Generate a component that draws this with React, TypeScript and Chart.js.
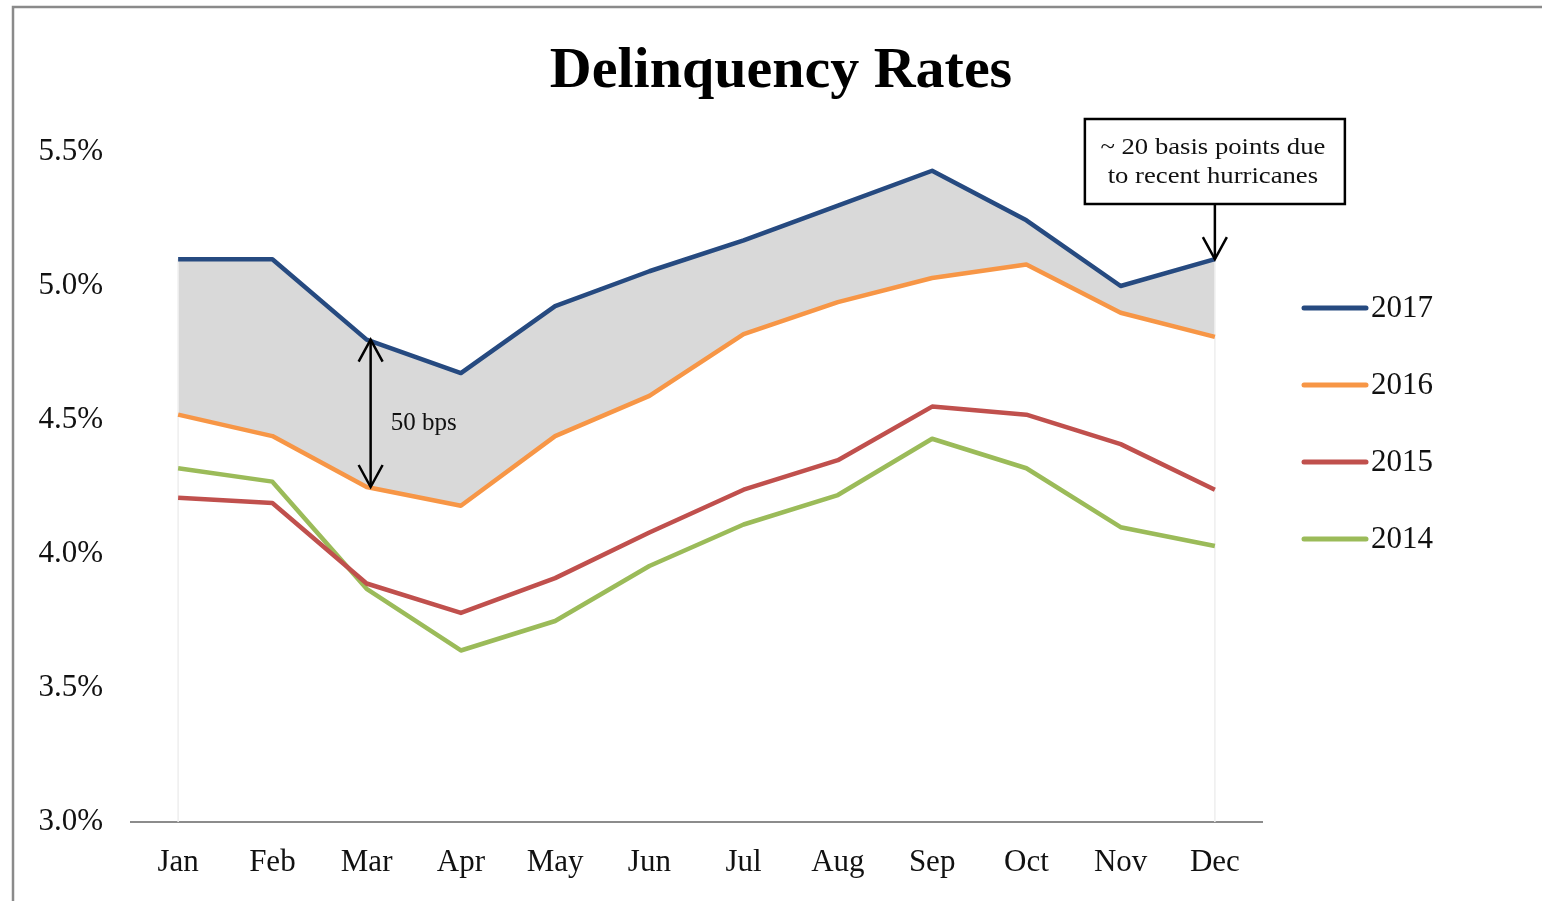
import React, { useEffect, useRef } from "react";
import { Chart, registerables } from "chart.js";

Chart.register(...registerables);

const months = ["Jan", "Feb", "Mar", "Apr", "May", "Jun", "Jul", "Aug", "Sep", "Oct", "Nov", "Dec"];
const rates2017 = [5.10, 5.10, 4.80, 4.675, 4.925, 5.055, 5.17, 5.30, 5.43, 5.245, 5.00, 5.10];
const rates2016 = [4.52, 4.44, 4.25, 4.18, 4.44, 4.59, 4.82, 4.94, 5.03, 5.08, 4.90, 4.81];
const rates2015 = [4.21, 4.19, 3.89, 3.78, 3.91, 4.08, 4.24, 4.35, 4.55, 4.52, 4.41, 4.24];
const rates2014 = [4.32, 4.27, 3.87, 3.64, 3.75, 3.955, 4.11, 4.22, 4.43, 4.32, 4.10, 4.03];
const seriesLabels = ["2017", "2016", "2015", "2014"];
const seriesColors = ["#264a80", "#f79646", "#c0504d", "#9bbb59"];
const yTicks = [3.0, 3.5, 4.0, 4.5, 5.0, 5.5];
const titleText = "Delinquency Rates";
const bpsText = "50 bps";
const noteLines = ["~ 20 basis points due", "to recent hurricanes"];

const SERIF = '"Liberation Serif", "Times New Roman", serif';

function arrowHead(ctx: CanvasRenderingContext2D, x: number, y: number, dir: number) {
  ctx.beginPath();
  ctx.moveTo(x - 12, y + dir * 22);
  ctx.lineTo(x, y);
  ctx.lineTo(x + 12, y + dir * 22);
  ctx.stroke();
}

const decorPlugin = {
  id: "decor",
  beforeDatasetsDraw(chart: any) {
    const { ctx, scales } = chart;
    const xs = scales.x;
    const ys = scales.y;
    ctx.save();
    ctx.strokeStyle = "#eeeeee";
    ctx.lineWidth = 1.5;
    [0, months.length - 1].forEach((i) => {
      const x = xs.getPixelForValue(i);
      ctx.beginPath();
      ctx.moveTo(x, ys.getPixelForValue(rates2017[i]));
      ctx.lineTo(x, ys.bottom);
      ctx.stroke();
    });
    ctx.restore();
  },
  afterDraw(chart: any) {
    const { ctx, scales } = chart;
    const xs = scales.x;
    const ys = scales.y;
    ctx.save();

    // outer frame
    ctx.strokeStyle = "#8a8a8a";
    ctx.lineWidth = 2.5;
    ctx.beginPath();
    ctx.moveTo(13, 901);
    ctx.lineTo(13, 7);
    ctx.lineTo(1542, 7);
    ctx.stroke();

    // title
    ctx.fillStyle = "#000";
    ctx.font = `bold 58px ${SERIF}`;
    ctx.textAlign = "center";
    ctx.textBaseline = "alphabetic";
    ctx.fillText(titleText, 781, 87);

    // legend
    const legendY = [308, 385, 462, 539];
    seriesLabels.forEach((lab, i) => {
      ctx.strokeStyle = seriesColors[i];
      ctx.lineWidth = 5;
      ctx.lineCap = "round";
      ctx.beginPath();
      ctx.moveTo(1304, legendY[i]);
      ctx.lineTo(1366, legendY[i]);
      ctx.stroke();
      ctx.fillStyle = "#111";
      ctx.font = `31px ${SERIF}`;
      ctx.textAlign = "left";
      ctx.textBaseline = "middle";
      ctx.fillText(lab, 1371, legendY[i] + 1);
    });
    ctx.lineCap = "butt";

    // 50 bps arrow
    const xm = xs.getPixelForValue(2) + 4;
    const yTop = ys.getPixelForValue(rates2017[2]);
    const yBot = ys.getPixelForValue(rates2016[2]);
    ctx.strokeStyle = "#000";
    ctx.lineWidth = 2.5;
    ctx.beginPath();
    ctx.moveTo(xm, yTop);
    ctx.lineTo(xm, yBot);
    ctx.stroke();
    arrowHead(ctx, xm, yTop, 1);
    arrowHead(ctx, xm, yBot, -1);
    ctx.fillStyle = "#111";
    ctx.font = `25px ${SERIF}`;
    ctx.textAlign = "left";
    ctx.textBaseline = "middle";
    ctx.fillText(bpsText, xm + 20, (yTop + yBot) / 2 + 10);

    // hurricane note box + arrow
    const xd = xs.getPixelForValue(months.length - 1);
    const yd = ys.getPixelForValue(rates2017[months.length - 1]);
    const boxW = 260;
    const boxTop = 119;
    const boxBottom = 204;
    ctx.fillStyle = "#fff";
    ctx.fillRect(xd - boxW / 2, boxTop, boxW, boxBottom - boxTop);
    ctx.strokeStyle = "#000";
    ctx.lineWidth = 2.5;
    ctx.strokeRect(xd - boxW / 2, boxTop, boxW, boxBottom - boxTop);
    ctx.beginPath();
    ctx.moveTo(xd, boxBottom);
    ctx.lineTo(xd, yd);
    ctx.stroke();
    arrowHead(ctx, xd, yd, -1);
    ctx.fillStyle = "#111";
    ctx.font = `23px ${SERIF}`;
    ctx.textAlign = "center";
    ctx.textBaseline = "middle";
    [148, 177].forEach((ty, i) => {
      ctx.save();
      ctx.translate(xd - 2, ty);
      ctx.scale(1.16, 1);
      ctx.fillText(noteLines[i], 0, 0);
      ctx.restore();
    });

    ctx.restore();
  },
};

export default function App() {
  const canvasRef = useRef<HTMLCanvasElement | null>(null);

  useEffect(() => {
    if (!canvasRef.current) return;
    const data = [rates2017, rates2016, rates2015, rates2014];
    const chart = new Chart(canvasRef.current, {
      type: "line",
      data: {
        labels: months,
        datasets: seriesLabels.map((lab, i) => ({
          label: lab,
          data: data[i],
          borderColor: seriesColors[i],
          backgroundColor: i === 0 ? "#d9d9d9" : seriesColors[i],
          borderWidth: 4.5,
          pointRadius: 0,
          pointHoverRadius: 0,
          tension: 0,
          borderJoinStyle: "round" as const,
          fill: i === 0 ? "+1" : false,
          order: i,
        })),
      },
      options: {
        responsive: false,
        animation: false,
        devicePixelRatio: 1,
        layout: { padding: { top: 152, right: 280, left: 0, bottom: 0 } },
        plugins: {
          legend: { display: false },
          tooltip: { enabled: false },
          title: { display: false },
          filler: { drawTime: "beforeDatasetsDraw" },
        } as any,
        scales: {
          x: {
            type: "category",
            offset: true,
            grid: { display: true, drawOnChartArea: false, drawTicks: false },
            border: { display: true, color: "#8c8c8c", width: 2 },
            ticks: {
              color: "#111",
              font: { family: SERIF, size: 31 },
              padding: 22,
              maxRotation: 0,
              autoSkip: false,
            },
            afterFit: (s: any) => {
              s.height = 79;
            },
          },
          y: {
            min: 3.0,
            max: 5.5,
            grid: { display: true, drawOnChartArea: false, drawTicks: false },
            border: { display: false },
            afterBuildTicks: (s: any) => {
              s.ticks = yTicks.map((v) => ({ value: v }));
            },
            ticks: {
              color: "#111",
              font: { family: SERIF, size: 31 },
              padding: 28,
              callback: (v: any) => Number(v).toFixed(1) + "%",
            },
            afterFit: (s: any) => {
              s.width = 131;
            },
          },
        },
      },
      plugins: [decorPlugin],
    });
    return () => chart.destroy();
  }, []);

  return (
    <div style={{ position: "fixed", left: 0, top: 0, width: 1542, height: 901, background: "#fff" }}>
      <canvas ref={canvasRef} width={1542} height={901} style={{ display: "block" }} />
    </div>
  );
}
